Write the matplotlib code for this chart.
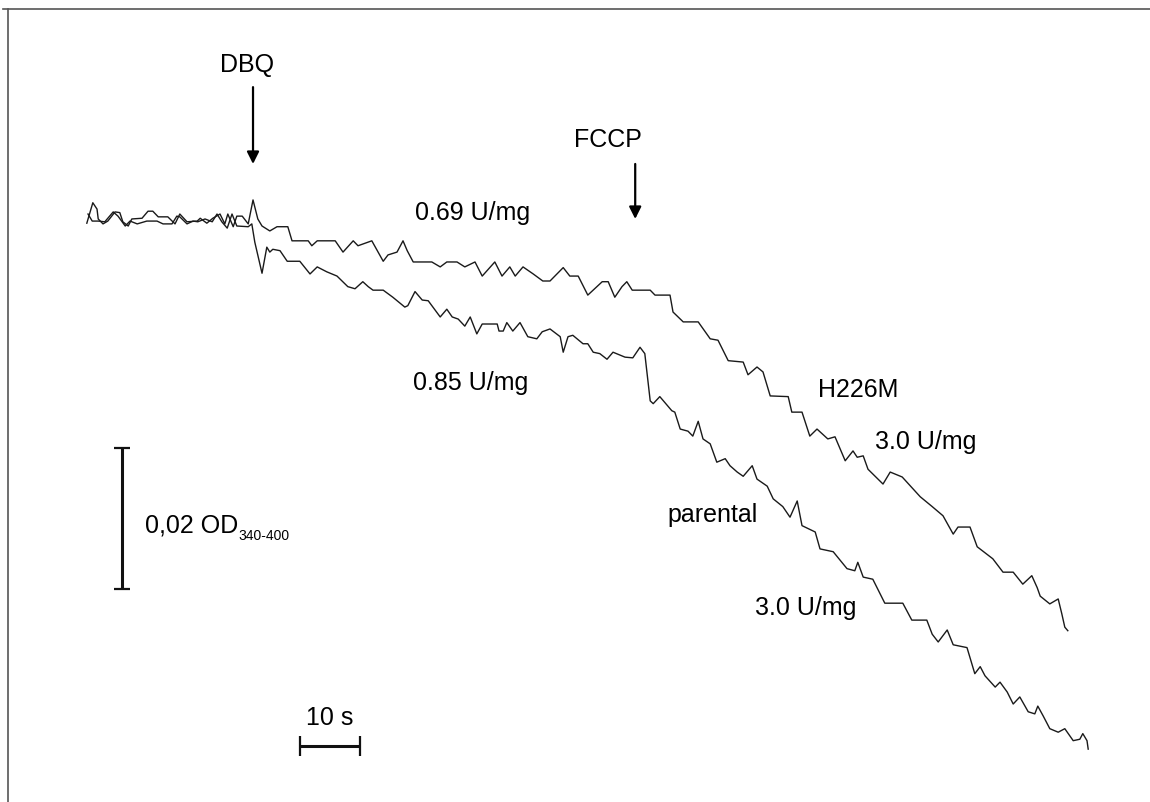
import matplotlib
matplotlib.use('Agg')
import matplotlib.pyplot as plt
from matplotlib.lines import Line2D

plt.rcParams['font.family'] = ['Liberation Sans', 'DejaVu Sans']

# traces: time (s) and absorbance change (mOD, 340-400 nm)
h226m_t = [-0.2, 0.8, 1.5, 1.7, 2.5, 3.3, 4.5, 5.3, 5.8, 6.7, 7.3, 9.0, 10.0, 10.8, 11.7, 13.3,
           14.5, 15.3, 16.5, 18.2, 18.7, 19.8, 20.8, 22.0, 22.8, 23.3, 24.2, 24.8, 25.7, 26.7,
           27.5, 28.3, 29.0, 30.3, 31.5, 33.3, 34.0, 36.7, 37.3, 38.2, 41.2, 42.5, 44.2, 45.0,
           47.3, 49.2, 50.0, 51.5, 52.5, 53.2, 54.2, 57.3, 58.7, 59.8, 61.5, 62.8, 64.5, 65.7,
           67.8, 69.0, 70.3, 71.2, 72.5, 74.2, 75.8, 77.0, 79.2, 80.3, 81.7, 83.3, 85.7, 86.7,
           87.8, 89.0, 89.8, 90.7, 93.7, 94.5, 97.0, 97.5, 99.2, 101.7, 103.7, 105.0, 106.7,
           109.2, 110.0, 111.5, 112.5, 113.7, 116.7, 117.3, 119.0, 120.3, 121.5, 123.3, 124.5,
           126.2, 127.5, 128.2, 129.2, 130.0, 132.5, 133.7, 135.7, 138.7, 140.7, 142.5, 144.2,
           145.0, 147.0, 148.2, 150.8, 152.5, 154.2, 155.8, 157.3, 158.2, 158.7, 160.3, 161.7,
           162.3, 162.8, 163.3]
h226m_od = [-1.6, 1.3, 0.4, -1.0, -1.7, -1.3, 0.0, -0.1, -1.4, -2.0, -1.0, -0.9, 0.1, 0.1,
            -0.7, -0.7, -1.7, -0.3, -1.4, -1.3, -0.9, -1.6, -0.9, -0.3, -1.7, -0.3, -2.1, -0.6,
            -0.6, -1.7, 1.7, -1.0, -2.0, -2.7, -2.1, -2.1, -4.1, -4.1, -4.8, -4.1, -4.1, -5.7,
            -4.1, -4.8, -4.1, -7.0, -6.1, -5.7, -4.1, -5.5, -7.1, -7.1, -7.8, -7.1, -7.1, -7.8,
            -7.1, -9.1, -7.1, -9.1, -7.8, -9.1, -7.8, -8.8, -9.8, -9.8, -7.9, -9.1, -9.1, -11.8,
            -9.9, -9.9, -12.1, -10.6, -9.9, -11.1, -11.1, -11.8, -11.8, -14.2, -15.6, -15.6,
            -18.0, -18.2, -21.1, -21.3, -23.1, -22.0, -22.7, -26.1, -26.2, -28.4, -28.4, -31.8,
            -30.8, -32.2, -31.9, -35.3, -33.9, -34.8, -34.6, -36.5, -38.6, -36.9, -37.6, -40.4,
            -41.8, -43.1, -45.7, -44.7, -44.7, -47.5, -49.2, -51.1, -51.1, -52.8, -51.6, -53.3,
            -54.5, -55.6, -54.9, -57.0, -58.9, -59.4]

parental_t = [0.0, 0.7, 1.7, 2.8, 4.2, 5.0, 6.2, 7.0, 8.2, 9.8, 11.5, 12.5, 14.0, 14.8, 15.3,
              16.5, 17.5, 18.3, 19.5, 20.7, 21.5, 22.3, 23.2, 24.0, 24.8, 26.7, 27.3, 27.8,
              29.0, 29.8, 30.3, 30.8, 32.0, 33.2, 35.3, 37.0, 38.2, 39.8, 41.5, 43.3, 44.5,
              45.8, 46.7, 47.5, 49.2, 50.8, 52.8, 53.3, 54.5, 55.7, 56.7, 58.7, 59.8, 60.7,
              61.7, 62.8, 63.7, 64.8, 65.7, 68.2, 68.5, 69.2, 69.8, 70.8, 72.0, 73.3, 74.8,
              75.7, 77.0, 78.7, 79.2, 80.0, 80.8, 82.5, 83.3, 84.2, 85.3, 86.5, 87.5, 89.5,
              90.8, 92.0, 92.8, 93.7, 94.2, 95.3, 97.3, 97.8, 98.7, 100.0, 100.8, 101.7, 102.5,
              103.7, 104.8, 106.2, 107.0, 108.2, 109.2, 110.7, 111.5, 113.2, 114.2, 115.8,
              117.0, 118.2, 119.0, 121.2, 122.0, 124.2, 126.5, 127.8, 128.3, 129.2, 130.8,
              132.8, 135.8, 137.3, 139.8, 140.7, 141.7, 143.2, 144.2, 146.5, 147.8, 148.7,
              149.5, 151.2, 152.0, 153.2, 154.2, 155.3, 156.7, 157.8, 158.3, 159.2, 160.3,
              161.7, 162.8, 164.2, 165.3, 165.8, 166.5, 166.7]
parental_od = [-0.3, -1.3, -1.3, -1.4, 0.0, -0.6, -2.0, -1.3, -1.7, -1.3, -1.3, -1.7, -1.7,
               -0.6, -0.7, -1.7, -1.3, -1.4, -1.0, -1.4, -0.3, -1.4, -2.3, -0.3, -2.0, -2.1,
               -1.7, -4.3, -8.7, -5.0, -5.7, -5.3, -5.5, -7.0, -7.0, -8.8, -7.8, -8.5, -9.1,
               -10.6, -10.9, -9.9, -10.6, -11.1, -11.1, -12.1, -13.5, -13.3, -11.3, -12.5,
               -12.6, -14.9, -13.8, -14.9, -15.2, -16.2, -14.9, -17.3, -15.9, -15.9, -16.9,
               -16.9, -15.7, -16.9, -15.7, -17.7, -18.0, -17.0, -16.6, -17.7, -19.9, -17.7,
               -17.5, -18.7, -18.7, -19.9, -20.1, -20.9, -19.9, -20.6, -20.7, -19.2, -20.1,
               -26.8, -27.2, -26.2, -28.2, -28.4, -30.8, -31.1, -31.8, -29.7, -32.2, -32.9,
               -35.5, -35.0, -36.0, -36.9, -37.5, -36.0, -37.9, -38.9, -40.7, -41.8, -43.3,
               -41.0, -44.5, -45.4, -47.8, -48.2, -50.6, -50.9, -49.7, -51.8, -52.1, -55.5,
               -55.5, -57.9, -57.9, -59.9, -61.0, -59.3, -61.4, -61.8, -65.5, -64.5, -65.8,
               -67.4, -66.7, -68.1, -69.8, -68.8, -70.9, -71.2, -70.1, -71.5, -73.3, -73.8,
               -73.3, -75.0, -74.8, -74.0, -75.0, -76.2]

# additions (time of arrow, s) and scale bars
dbq_t = 27.5
fccp_t = 91.2
bar_time = 10      # s
bar_od = 20        # mOD = 0,02 OD

fig = plt.figure(figsize=(11.5, 8.03), dpi=100)
ax = fig.add_axes([0, 0, 1, 1])
ax.set_xlim(-14.67, 177.0)
ax.set_ylim(-83.7, 30.2)
ax.axis('off')

ax.plot(h226m_t, h226m_od, color='#1a1a1a', lw=1.0)
ax.plot(parental_t, parental_od, color='#1a1a1a', lw=1.0)

# arrows
arrow = dict(arrowstyle='-|>', lw=1.6, color='black', mutation_scale=18, shrinkA=0, shrinkB=0)
ax.annotate('', xy=(dbq_t, 6.8), xytext=(dbq_t, 17.7), arrowprops=arrow)
ax.annotate('', xy=(fccp_t, -1.0), xytext=(fccp_t, 6.8), arrowprops=arrow)

fs = 18
ax.text(26.5, 21.0, 'DBQ', fontsize=fs, ha='center', va='center')
ax.text(86.7, 10.35, 'FCCP', fontsize=fs, ha='center', va='center')
ax.text(54.5, 0.0, '0.69 U/mg', fontsize=fs, ha='left', va='center')
ax.text(54.2, -24.1, '0.85 U/mg', fontsize=fs, ha='left', va='center')
ax.text(121.7, -25.1, 'H226M', fontsize=fs, ha='left', va='center')
ax.text(131.2, -32.5, '3.0 U/mg', fontsize=fs, ha='left', va='center')
ax.text(96.5, -42.8, 'parental', fontsize=fs, ha='left', va='center')
ax.text(111.2, -56.0, '3.0 U/mg', fontsize=fs, ha='left', va='center')

# scale bars
x0, y0 = 35.33, -75.7
ax.plot([x0, x0 + bar_time], [y0, y0], color='#111111', lw=2.2, solid_capstyle='butt')
ax.plot([x0, x0 + bar_time], [y0, y0], ls='none', marker='|', ms=14, mew=1.6, color='#111111')
ax.text(x0 + bar_time / 2, -71.6, '10 s', fontsize=fs, ha='center', va='center')

xv, yv = 5.67, -33.5
ax.plot([xv, xv], [yv, yv - bar_od], color='#111111', lw=2.2, solid_capstyle='butt')
ax.plot([xv, xv], [yv, yv - bar_od], ls='none', marker='_', ms=12, mew=1.6, color='#111111')
lbl = ax.text(9.5, -44.3, '0,02 OD', fontsize=fs, ha='left', va='center')
ax.annotate('340-400', xy=(1.0, 0.05), xycoords=lbl, fontsize=10, ha='left', va='center')

# figure frame (left and top edge)
fx, fy = 8 / 1150, 1 - 10 / 803
fig.add_artist(Line2D([fx, fx], [0, fy], color='#555555', lw=1.2))
fig.add_artist(Line2D([fx - 0.004, 1], [fy, fy], color='#555555', lw=1.2))

fig.savefig('out.png', dpi=100)
